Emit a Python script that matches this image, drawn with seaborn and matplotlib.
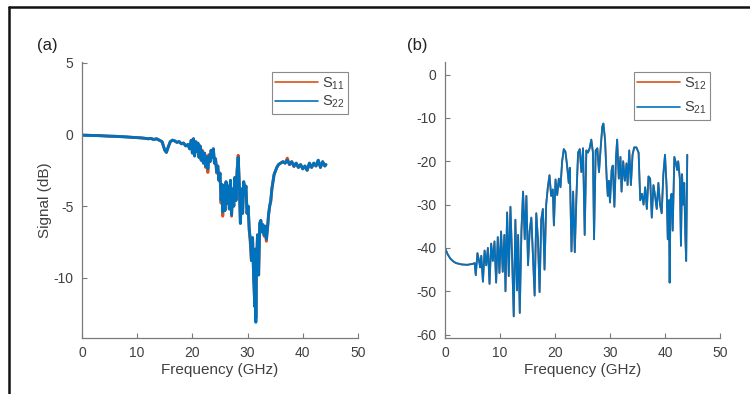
import numpy as np
import pandas as pd
import matplotlib
matplotlib.use("Agg")
import matplotlib.pyplot as plt
from matplotlib.lines import Line2D
import seaborn as sns

# ---------------- data ----------------
freq_a = [0.0, 1.0, 2.0, 3.0, 4.0, 5.0, 6.0, 7.0, 8.0, 9.0, 10.0, 11.0, 12.0, 12.5, 13.0,
          13.5, 14.0, 14.5, 15.0, 15.3, 15.6, 16.0, 16.4, 16.8, 17.2, 17.6, 18.0, 18.4, 18.8,
          19.2, 19.5, 19.8, 20.0, 20.2, 20.4, 20.6, 20.8, 21.0, 21.2, 21.4, 21.6, 21.8, 22.0,
          22.2, 22.4, 22.6, 22.8, 23.0, 23.2, 23.4, 23.6, 23.8, 24.0, 24.2, 24.4, 24.6, 24.8,
          25.0, 25.2, 25.4, 25.5, 25.7, 25.9, 26.1, 26.3, 26.5, 26.7, 26.9, 27.1, 27.3, 27.5,
          27.7, 27.9, 28.1, 28.3, 28.5, 28.7, 28.9, 29.1, 29.3, 29.5, 29.7, 29.9, 30.1, 30.3,
          30.5, 30.7, 30.9, 31.1, 31.3, 31.4, 31.5, 31.6, 31.8, 32.0, 32.2, 32.4, 32.6, 32.8,
          33.0, 33.2, 33.4, 33.6, 33.8, 34.0, 34.2, 34.4, 34.6, 34.8, 35.0, 35.3, 35.6, 36.0,
          36.4, 36.8, 37.2, 37.6, 38.0, 38.4, 38.8, 39.2, 39.6, 40.0, 40.4, 40.8, 41.2, 41.6,
          42.0, 42.4, 42.8, 43.2, 43.6, 44.0, 44.2]
s22 = [-0.05, -0.06, -0.07, -0.08, -0.10, -0.12, -0.13, -0.15, -0.17, -0.20, -0.22, -0.25, -0.30,
       -0.28, -0.35, -0.30, -0.40, -0.50, -1.10, -1.25, -0.90, -0.50, -0.40, -0.45, -0.55, -0.50,
       -0.65, -0.60, -0.80, -0.70, -1.00, -0.40, -1.30, -0.30, -1.50, -0.50, -1.20, -0.60, -1.60,
       -0.80, -1.80, -1.20, -2.00, -1.30, -2.20, -1.60, -2.40, -1.50, -1.90, -1.10, -1.60, -1.00,
       -2.00, -1.70, -2.60, -2.20, -3.20, -2.70, -4.60, -3.50, -5.40, -3.60, -5.30, -3.30, -4.80,
       -3.60, -5.20, -3.20, -5.60, -3.80, -5.00, -3.00, -4.60, -2.60, -1.60, -3.50, -6.20, -3.80,
       -5.50, -3.30, -4.20, -3.60, -5.50, -5.00, -6.60, -7.30, -8.80, -7.20, -9.90, -12.00, -8.00,
       -13.10, -9.50, -7.00, -9.80, -6.20, -6.00, -6.80, -6.30, -7.00, -6.40, -7.30, -6.60, -5.60,
       -5.00, -4.60, -3.80, -3.30, -2.80, -2.60, -2.30, -2.10, -2.00, -1.90, -2.00, -1.80, -2.10,
       -1.90, -2.20, -2.00, -2.30, -2.10, -2.40, -2.20, -2.50, -2.00, -2.30, -2.00, -2.20, -1.80,
       -2.30, -1.90, -2.20, -2.10]
s11 = [-0.05, -0.06, -0.07, -0.08, -0.10, -0.12, -0.13, -0.15, -0.17, -0.20, -0.22, -0.25, -0.30,
       -0.28, -0.35, -0.30, -0.40, -0.50, -1.10, -1.25, -0.90, -0.50, -0.40, -0.45, -0.55, -0.50,
       -0.65, -0.60, -0.80, -0.70, -1.00, -0.40, -1.30, -0.30, -1.50, -0.50, -1.20, -0.60, -1.60,
       -0.80, -1.80, -1.10, -2.00, -1.30, -2.30, -1.50, -2.65, -1.40, -1.90, -1.10, -1.60, -1.00,
       -2.00, -1.70, -2.70, -2.20, -3.20, -2.70, -4.80, -3.50, -5.70, -3.60, -5.30, -3.30, -4.80,
       -3.60, -5.20, -3.20, -5.70, -3.80, -5.00, -3.00, -4.60, -2.50, -1.45, -3.50, -6.20, -3.80,
       -5.50, -3.30, -4.20, -3.60, -5.50, -5.00, -6.70, -7.60, -8.80, -7.20, -9.90, -11.80, -8.00,
       -12.80, -9.50, -7.00, -9.80, -6.20, -6.00, -6.80, -6.30, -7.10, -6.40, -7.45, -6.60, -5.60,
       -5.00, -4.70, -3.80, -3.30, -2.80, -2.60, -2.30, -2.10, -2.00, -1.90, -2.00, -1.65, -2.10,
       -1.90, -2.25, -2.00, -2.30, -2.10, -2.40, -2.20, -2.50, -2.00, -2.30, -2.00, -2.20, -1.80,
       -2.30, -1.90, -2.20, -2.10]

freq_b = [0.0, 0.5, 1.0, 1.5, 2.0, 3.0, 4.0, 5.0, 5.4, 5.6, 5.9, 6.2, 6.4, 6.6, 6.9, 7.2, 7.5,
          7.8, 8.1, 8.4, 8.7, 9.0, 9.3, 9.6, 9.9, 10.2, 10.5, 10.8, 11.0, 11.3, 11.6, 11.9, 12.2,
          12.5, 12.8, 13.1, 13.3, 13.6, 13.9, 14.2, 14.5, 14.8, 15.1, 15.4, 15.7, 16.0, 16.3,
          16.6, 16.9, 17.2, 17.5, 17.8, 18.1, 18.4, 18.7, 19.0, 19.3, 19.6, 19.8, 20.1, 20.4,
          20.7, 21.0, 21.3, 21.6, 21.9, 22.2, 22.5, 22.7, 23.0, 23.3, 23.6, 23.9, 24.2, 24.5,
          24.8, 25.1, 25.4, 25.7, 26.0, 26.3, 26.6, 26.9, 27.1, 27.4, 27.7, 28.0, 28.3, 28.6,
          28.8, 29.1, 29.4, 29.6, 29.8, 30.0, 30.3, 30.5, 30.8, 31.1, 31.3, 31.6, 31.9, 32.1,
          32.4, 32.7, 33.0, 33.2, 33.5, 33.8, 34.1, 34.4, 34.8, 35.2, 35.5, 35.8, 36.1, 36.4,
          36.7, 37.0, 37.3, 37.6, 37.9, 38.2, 38.5, 38.8, 39.1, 39.4, 39.7, 40.0, 40.3, 40.5,
          40.7, 40.85, 41.0, 41.2, 41.4, 41.7, 42.0, 42.2, 42.4, 42.7, 42.9, 43.1, 43.3, 43.5,
          43.7, 43.85, 44.05]
s21 = [-40.0, -41.5, -42.5, -43.1, -43.5, -43.8, -43.9, -43.7, -43.5, -46.3, -41.2, -43.0, -44.5,
       -41.8, -47.8, -40.6, -44.0, -40.0, -48.3, -39.0, -43.0, -38.5, -48.0, -37.5, -45.8, -36.2,
       -45.5, -37.0, -50.0, -31.8, -46.5, -30.5, -42.0, -55.8, -33.5, -49.8, -37.0, -55.0, -36.0,
       -27.0, -38.0, -28.0, -44.0, -36.0, -33.0, -42.0, -51.0, -32.0, -38.0, -50.2, -33.5, -31.0,
       -45.0, -30.0, -26.0, -23.2, -28.0, -26.5, -34.8, -24.2, -27.8, -24.0, -26.0, -20.0, -17.2,
       -17.8, -21.0, -25.0, -21.5, -40.8, -27.0, -41.0, -28.0, -18.0, -17.2, -22.5, -17.0, -37.0,
       -17.5, -18.0, -17.0, -15.0, -18.0, -38.0, -17.5, -17.0, -22.5, -17.0, -12.0, -11.3, -15.0,
       -24.0, -28.0, -24.5, -29.5, -22.0, -21.0, -30.5, -19.0, -15.0, -24.0, -19.0, -27.0, -20.0,
       -24.5, -20.5, -25.5, -17.5, -25.5, -18.5, -16.8, -16.8, -18.0, -29.0, -27.5, -30.0, -26.0,
       -31.0, -23.5, -24.0, -33.0, -25.5, -28.0, -31.0, -25.0, -30.0, -32.0, -23.0, -18.5, -26.0,
       -38.0, -29.0, -48.0, -29.0, -27.5, -36.0, -19.0, -20.5, -22.0, -20.0, -24.0, -39.5, -23.0,
       -30.0, -25.0, -37.5, -43.0, -18.5]
s12 = list(s21)

xticks = [0, 10, 20, 30, 40, 50]
yticks_a = [5, 0, -5, -10]
yticks_b = [0, -10, -20, -30, -40, -50, -60]

# ---------------- style ----------------
sns.set_theme(style="white")
plt.rcParams["font.family"] = ["Liberation Sans", "DejaVu Sans"]
plt.rcParams["axes.unicode_minus"] = False

BLUE = "#0072BD"
ORANGE = "#D95319"
AX_C = "#7a7a7a"
TXT_C = "#404040"

fig = plt.figure(figsize=(7.5, 3.94), dpi=100)
ax_a = fig.add_axes([0.1093, 0.142, 0.368, 0.7005])
ax_b = fig.add_axes([0.5933, 0.142, 0.3667, 0.7005])

df_a = pd.DataFrame({"f": freq_a, "s11": s11, "s22": s22})
df_b = pd.DataFrame({"f": freq_b, "s12": s12, "s21": s21})

sns.lineplot(data=df_a, x="f", y="s11", ax=ax_a, color=ORANGE, lw=2.1,
             sort=False, estimator=None, label=r"$\mathregular{S_{11}}$")
sns.lineplot(data=df_a, x="f", y="s22", ax=ax_a, color=BLUE, lw=2.1,
             sort=False, estimator=None, label=r"$\mathregular{S_{22}}$")
sns.lineplot(data=df_b, x="f", y="s12", ax=ax_b, color=ORANGE, lw=1.3,
             sort=False, estimator=None, label=r"$\mathregular{S_{12}}$")
sns.lineplot(data=df_b, x="f", y="s21", ax=ax_b, color=BLUE, lw=1.3,
             sort=False, estimator=None, label=r"$\mathregular{S_{21}}$")

for ax, yt, ylim, lsp in [(ax_a, yticks_a, (-14.2, 5.05), 0.15),
                          (ax_b, yticks_b, (-60.8, 2.9), 0.55)]:
    ax.set_xlim(0, 50)
    ax.set_ylim(*ylim)
    ax.set_xticks(xticks)
    ax.set_yticks(yt)
    for side in ["top", "right"]:
        ax.spines[side].set_visible(False)
    for side in ["left", "bottom"]:
        ax.spines[side].set_color(AX_C)
        ax.spines[side].set_linewidth(0.9)
    ax.tick_params(direction="in", length=3.5, width=0.8, color=AX_C,
                   labelcolor=TXT_C, labelsize=10, pad=6, left=True, bottom=True)
    ax.set_xlabel("Frequency (GHz)", fontsize=11, color=TXT_C, labelpad=2)
    ax.set_ylabel("")
    leg = ax.legend(loc="upper right", bbox_to_anchor=(0.965, 0.965), fancybox=False,
                    framealpha=1, edgecolor="#8a8a8a", fontsize=10.5, handlelength=2.9,
                    borderpad=0.25, labelspacing=lsp, handletextpad=0.3, borderaxespad=0)
    leg.get_frame().set_linewidth(0.8)
    for h in leg.get_lines():
        h.set_linewidth(1.2)
    for t in leg.get_texts():
        t.set_color(TXT_C)

ax_a.set_ylabel("Signal (dB)", fontsize=11, color=TXT_C, labelpad=1)

fig.text(0.050, 0.872, "(a)", fontsize=12, color="#222222")
fig.text(0.542, 0.872, "(b)", fontsize=12, color="#222222")

# frame lines of the original figure crop
fig.add_artist(Line2D([0.0120, 1.0], [0.983, 0.983], transform=fig.transFigure,
                      color="#111111", lw=1.8))
fig.add_artist(Line2D([0.0120, 0.0120], [0.0, 0.983], transform=fig.transFigure,
                      color="#111111", lw=1.8))

fig.savefig("out.png", dpi=100)
